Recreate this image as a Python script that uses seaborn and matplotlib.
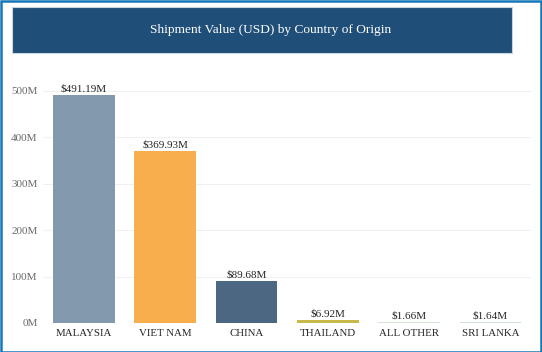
import matplotlib
matplotlib.use("Agg")
import matplotlib.pyplot as plt
import seaborn as sns
import pandas as pd
from matplotlib.patches import Rectangle
from matplotlib.ticker import FuncFormatter

countries = ["MALAYSIA", "VIET NAM", "CHINA", "THAILAND", "ALL OTHER", "SRI LANKA"]
values_musd = [491.19, 369.93, 89.68, 6.92, 1.66, 1.64]
value_labels = ["$491.19M", "$369.93M", "$89.68M", "$6.92M", "$1.66M", "$1.64M"]
bar_colors = ["#8299ae", "#f9ae4d", "#4b6782", "#c9b94a", "#d3e6d3", "#d0e0d8"]
y_ticks = [0, 100, 200, 300, 400, 500]
title = "Shipment Value (USD) by Country of Origin"

sns.set_theme(style="white")
plt.rcParams["font.family"] = ["Liberation Serif", "DejaVu Serif"]

df = pd.DataFrame({"country": countries, "value": values_musd})

fig = plt.figure(figsize=(5.42, 3.52), dpi=100)
W, H = 542, 352
ax = fig.add_axes([43.3 / W, 1 - 323 / H, (531.2 - 43.3) / W, (323 - 70) / H])

sns.barplot(data=df, x="country", y="value", hue="country", palette=bar_colors,
            legend=False, width=0.76, ax=ax, saturation=1)
for p in ax.patches:
    p.set_linewidth(0)

ax.set_xlim(-0.5, 5.5)
ax.set_ylim(0, 545)
ax.set_yticks(y_ticks)
ax.yaxis.set_major_formatter(FuncFormatter(lambda v, pos: f"{int(v)}M"))
ax.grid(axis="y", color="#f0f0f0", linewidth=0.8)
ax.set_axisbelow(True)
for s in ax.spines.values():
    s.set_visible(False)
ax.set_xlabel("")
ax.set_ylabel("")
ax.tick_params(axis="y", labelsize=8, labelcolor="#6a6a6a", length=0, pad=4)
ax.tick_params(axis="x", labelsize=7.8, labelcolor="#252525", length=0, pad=4)

for i, (v, lab) in enumerate(zip(values_musd, value_labels)):
    ax.annotate(lab, (i, v), xytext=(0, 1), textcoords="offset points",
                ha="center", va="bottom", fontsize=8, color="#252525")

# title banner
fig.patches.append(Rectangle((12 / W, 1 - 53 / H), (512 - 12) / W, (53 - 7) / H,
                             transform=fig.transFigure, facecolor="#1f4e79",
                             edgecolor="#c8d4e0", linewidth=0.8, zorder=0))
fig.text(0.5, 1 - 30.5 / H, title, ha="center", va="center", color="white", fontsize=9.6)

# outer border
fig.patches.append(Rectangle((0.5 / W, 0.5 / H), 1 - 1.5 / W, 1 - 1.5 / H,
                             transform=fig.transFigure, facecolor="none",
                             edgecolor="#1677b8", linewidth=1.8, zorder=5))

fig.savefig("out.png", dpi=100)
